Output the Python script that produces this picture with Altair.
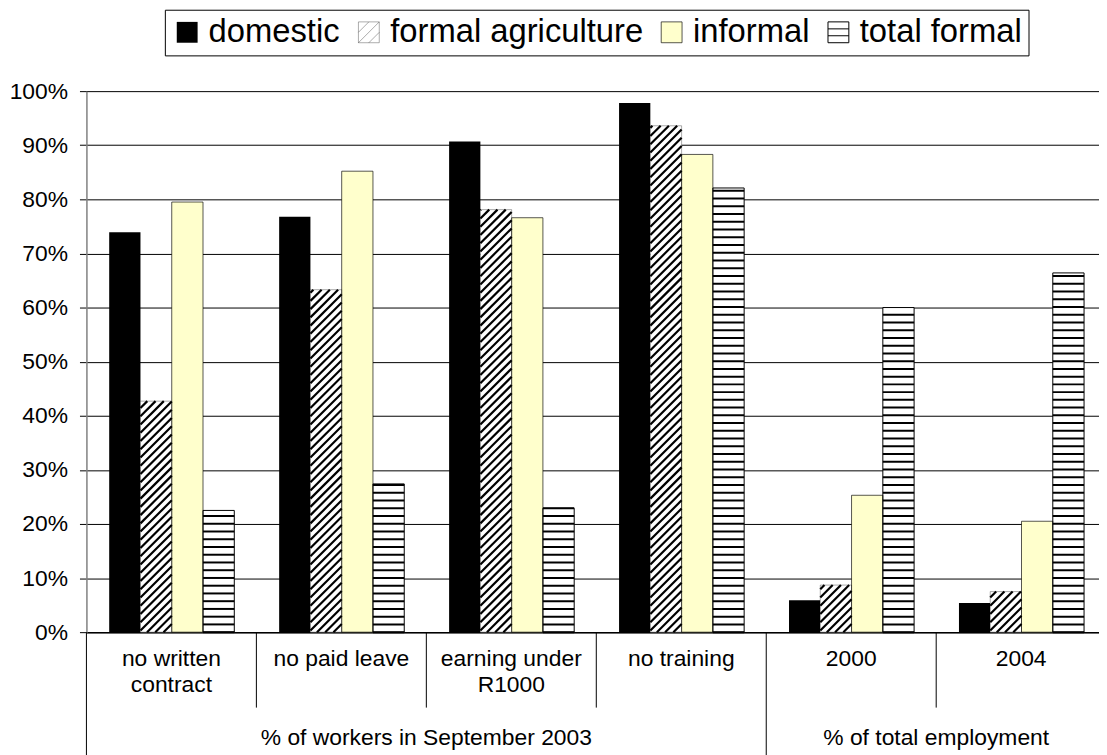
import altair as alt
import pandas as pd

# ---------------- data ----------------
categories = ["no written\ncontract", "no paid leave", "earning under\nR1000", "no training", "2000", "2004"]
supergroups = ["% of workers in September 2003"] * 4 + ["% of total employment"] * 2
series = ["domestic", "formal agriculture", "informal", "total formal"]
domestic = [73.9, 76.8, 90.7, 97.8, 5.9, 5.4]
formal_agriculture = [42.7, 63.3, 78.1, 93.6, 8.7, 7.5]
informal = [79.5, 85.2, 76.6, 88.3, 25.3, 20.5]
total_formal = [22.5, 27.4, 22.9, 82.1, 60.0, 66.4]
y_ticks = list(range(0, 101, 10))

# ---------------- layout / style ----------------
FONT = "Liberation Sans"
PLOT_W = 1020
PLOT_H = 545
GROUP_PX = 171.2
X_MAX = PLOT_W / GROUP_PX
KX = GROUP_PX
KY = PLOT_H / 100.0
BAR_W = 0.184
BAR_START = 0.134
BW_PX = BAR_W * KX
STRIPE_STEP = 7.8
HATCH_STEP = 8.3

fills = ["black", "white", "#FFFFCC", "white"]
stroke_widths = [0, 1, 2, 1.5]
square = "M-1,-1H1V1H-1Z"
shapes = [
    square,
    square + " M-1,0L0,-1 M-1,1L1,-1 M0,1L1,0",
    square,
    square + " M-1,-0.33H1 M-1,0.33H1",
]

rows = []
for gi, cat in enumerate(categories):
    for si, vals in enumerate([domestic, formal_agriculture, informal, total_formal]):
        rows.append({"cat": cat, "gi": gi, "series": series[si], "si": si, "value": vals[gi]})
df = pd.DataFrame(rows)

cat_df = pd.DataFrame({"cat": categories, "gi": list(range(len(categories))), "sg": supergroups})
cat_df["long"] = [i == 0 or supergroups[i] != supergroups[i - 1] for i in range(len(categories))]

xscale = alt.Scale(domain=[0, X_MAX], nice=False, zero=False)
yscale = alt.Scale(domain=[0, 100], nice=False)
sw_scale = alt.Scale(domain=series, range=stroke_widths)

xaxis = alt.Axis(labels=False, ticks=False, grid=False, domain=True, domainColor="black",
                 domainWidth=1.5, title=None)
yaxis = alt.Axis(values=y_ticks, labelExpr="datum.value + '%'", grid=True, gridColor="black",
                 gridWidth=1, tickSize=7, tickColor="black", tickWidth=1, domainColor="#808080",
                 domainWidth=1.5, labelFont=FONT, labelFontSize=23, labelColor="black",
                 labelPadding=12, title=None)


def X(field):
    return alt.X(field, scale=xscale, axis=xaxis)


def Y(field):
    return alt.Y(field, scale=yscale, axis=yaxis)


base = alt.Chart(df).transform_calculate(
    x0=f"datum.gi + {BAR_START} + datum.si * {BAR_W}",
    x1=f"datum.gi + {BAR_START} + (datum.si + 1) * {BAR_W}",
    xc=f"datum.gi + {BAR_START} + (datum.si + 0.5) * {BAR_W}",
    half="datum.value / 2",
)

fill_scale = alt.Scale(domain=series, range=fills)

legend_pts = base.mark_point(filled=True, opacity=1, stroke="black", size=20).encode(
    x=X("xc:Q"),
    y=Y("half:Q"),
    fill=alt.Fill("series:N", scale=fill_scale, title=None,
                  legend=alt.Legend(orient="none", legendX=79, legendY=-82, direction="horizontal",
                                    columns=4, title=None, labelFont=FONT, labelFontSize=33,
                                    labelColor="black", symbolSize=441, symbolStrokeColor="black",
                                    symbolOpacity=1, labelOffset=5,
                                    columnPadding=12, padding=6, strokeColor="black",
                                    fillColor="white", labelLimit=0)),
    shape=alt.Shape("series:N", scale=alt.Scale(domain=series, range=shapes), title=None),
    strokeWidth=alt.StrokeWidth("series:N", scale=sw_scale, title=None),
)

bars = base.mark_bar(strokeWidth=0).encode(
    x=X("x0:Q"),
    x2="x1:Q",
    y=Y("value:Q"),
    y2=alt.datum(0),
    fill=alt.Fill("series:N", scale=fill_scale, legend=None),
)

stripes = base.transform_filter(alt.datum.series == "total formal").transform_calculate(
    ks=f"sequence(0, datum.value * {KY}, {STRIPE_STEP})"
).transform_flatten(["ks"]).transform_calculate(
    ys=f"datum.ks / {KY}"
).mark_rule(color="black", strokeWidth=2).encode(
    x=X("x0:Q"), x2="x1:Q",
    y=Y("ys:Q"),
)

hatch = base.transform_filter(alt.datum.series == "formal agriculture").transform_calculate(
    cs=f"sequence(-{BW_PX}, datum.value * {KY}, {HATCH_STEP})"
).transform_flatten(["cs"]).transform_calculate(
    X1="max(0, -datum.cs)",
    X2=f"min({BW_PX}, datum.value * {KY} - datum.cs)",
).transform_filter("datum.X2 > datum.X1").transform_calculate(
    hx1=f"datum.x0 + datum.X1 / {KX}",
    hx2=f"datum.x0 + datum.X2 / {KX}",
    hy1=f"(datum.X1 + datum.cs) / {KY}",
    hy2=f"(datum.X2 + datum.cs) / {KY}",
).mark_rule(color="black", strokeWidth=2.2, strokeCap="butt").encode(
    x=X("hx1:Q"), x2="hx2:Q",
    y=Y("hy1:Q"), y2="hy2:Q",
)

outlines = base.transform_filter(alt.datum.series != "domestic").mark_bar(
    fillOpacity=0, stroke="black"
).encode(
    x=X("x0:Q"), x2="x1:Q",
    y=Y("value:Q"), y2=alt.datum(0),
    strokeWidth=alt.StrokeWidth("series:N", scale=sw_scale, legend=None),
)

cats = alt.Chart(cat_df).transform_calculate(xc="datum.gi + 0.5")

sep_short = cats.transform_filter("!datum.long").mark_rule(color="black", strokeWidth=1).encode(
    x=X("gi:Q"),
    y=alt.value(PLOT_H), y2=alt.value(PLOT_H + 76),
)
sep_long = cats.transform_filter("datum.long").mark_rule(color="black", strokeWidth=1).encode(
    x=X("gi:Q"),
    y=alt.value(PLOT_H), y2=alt.value(PLOT_H + 125),
)

cat_labels = cats.mark_text(font=FONT, fontSize=23, color="black", align="center",
                            baseline="alphabetic", lineBreak="\n", lineHeight=26).encode(
    x=X("xc:Q"),
    y=alt.value(PLOT_H + 34),
    text="cat:N",
)

sg_labels = cats.transform_aggregate(
    center="mean(xc)", groupby=["sg"]
).mark_text(font=FONT, fontSize=23, color="black", align="center", baseline="alphabetic").encode(
    x=X("center:Q"),
    y=alt.value(PLOT_H + 114),
    text="sg:N",
)

chart = alt.layer(
    legend_pts, bars, stripes, hatch, outlines, sep_short, sep_long, cat_labels, sg_labels
).properties(
    width=PLOT_W, height=PLOT_H,
    autosize=alt.AutoSizeParams(type="none"),
    padding={"left": 79, "top": 81, "right": 0, "bottom": 121},
).configure(font=FONT).configure_view(strokeWidth=0)

chart.save("out.html", embed_options={"renderer": "svg", "actions": False})
